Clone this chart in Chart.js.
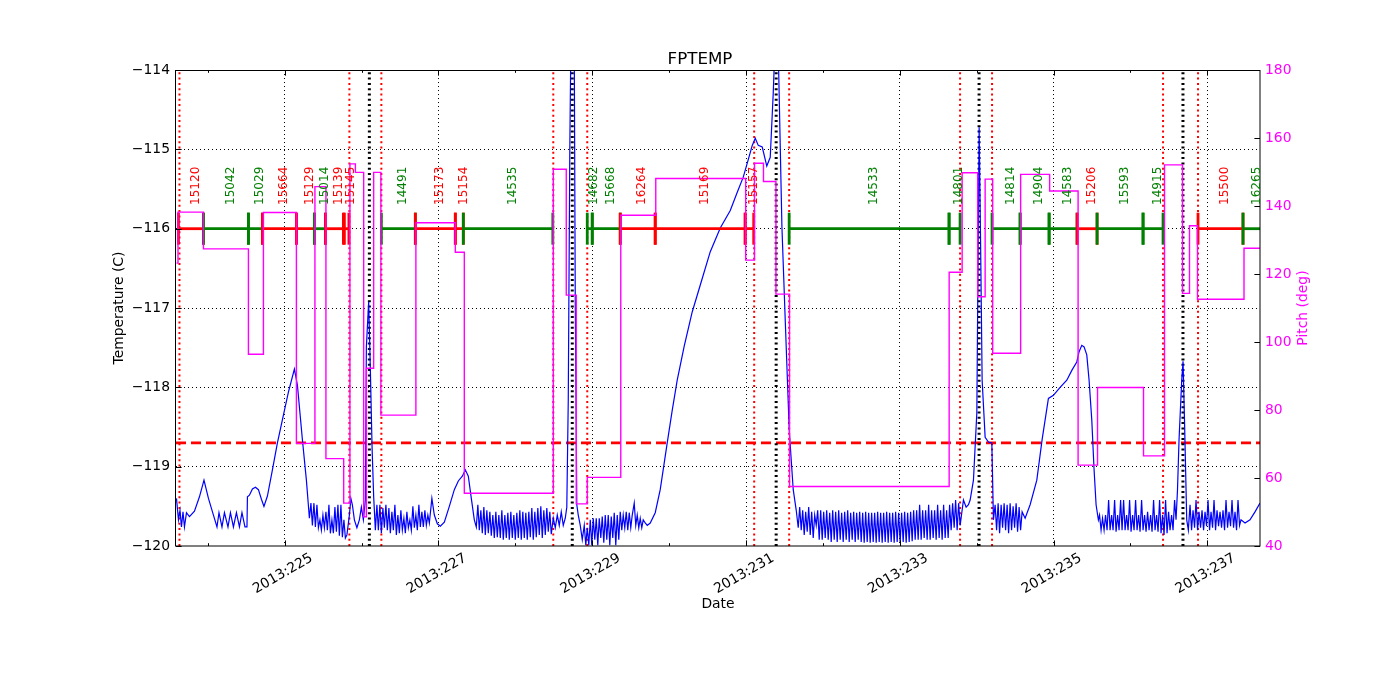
<!DOCTYPE html>
<html><head><meta charset="utf-8">
<script src="https://cdn.jsdelivr.net/npm/chart.js@4.4.1/dist/chart.umd.min.js"></script>
<style>html,body{margin:0;padding:0;background:#fff;}canvas{display:block;}</style>
</head><body>
<canvas id="c" width="1400" height="700"></canvas>
<script>
// ---------------- data ----------------
const X_MIN = 223.586, X_MAX = 237.685;
const dayTicks = [224,225,226,227,228,229,230,231,232,233,234,235,236,237];
const tempTicks = [-120,-119,-118,-117,-116,-115,-114];
const pitchTicks = [40,60,80,100,120,140,160,180];
const limitTemp = -118.7;
const obsLevel = -116;
const obsLabelLevel = -115.70;

const tempDays = [
223.592,223.618,223.638,223.657,223.677,223.696,223.722,223.761,223.826,223.891,223.950,224.008,224.073,224.119,224.145,224.184,224.216,224.262,224.294,224.333,224.372,224.411,224.444,224.483,224.509,224.515,224.541,224.580,224.619,224.658,224.697,224.730,224.775,224.840,224.905,224.983,225.048,225.126,225.165,225.230,225.282,225.321,
225.341,225.360,225.380,225.399,225.419,225.438,225.458,225.477,225.497,225.516,225.536,225.555,225.575,225.594,225.614,225.633,225.653,225.672,225.692,225.711,225.731,225.750,225.770,225.789,225.809,
225.841,225.861,225.880,225.906,225.939,225.971,225.997,226.023,226.049,226.062,226.092,226.114,226.136,226.157,226.179,
226.199,226.218,226.238,226.257,226.277,226.296,226.316,226.335,226.355,226.374,226.394,226.413,226.433,226.452,226.472,226.491,226.511,226.530,226.550,226.569,226.589,226.608,226.628,226.647,226.667,226.686,226.706,226.725,226.745,226.764,226.784,226.803,226.823,226.842,226.862,226.881,
226.914,226.946,226.985,227.024,227.076,227.141,227.206,227.258,227.310,227.349,227.388,227.427,227.466,227.492,
227.512,227.531,227.551,227.570,227.590,227.609,227.629,227.648,227.668,227.687,227.707,227.726,227.746,227.765,227.785,227.804,227.824,227.843,227.863,227.882,227.902,227.921,227.941,227.960,227.980,227.999,228.019,228.038,228.058,228.077,228.097,228.116,228.136,228.155,228.175,228.194,228.214,228.233,228.253,228.272,228.292,228.311,228.331,228.350,228.370,228.389,228.409,228.428,228.448,228.467,
228.493,228.519,228.545,228.571,228.597,228.623,228.649,228.669,228.688,228.708,228.721,228.766,228.779,228.799,228.818,228.844,228.870,228.896,
228.916,228.935,228.955,228.974,228.994,229.013,229.033,229.052,229.072,229.091,229.111,229.130,229.150,229.169,229.189,229.208,229.228,229.247,229.267,229.286,229.306,229.325,229.345,
229.364,229.384,229.403,229.423,229.442,229.462,229.481,229.501,229.520,229.546,229.566,229.585,229.605,229.624,229.644,229.663,229.689,229.715,229.754,229.819,229.884,229.975,230.040,230.105,230.196,230.300,230.405,230.535,230.665,230.795,230.886,230.964,231.029,231.081,231.120,231.159,231.211,231.270,231.315,231.354,231.374,231.419,231.467,231.510,231.562,231.614,231.653,231.679,
231.698,231.718,231.737,231.757,231.776,231.796,231.815,231.835,231.854,231.874,231.893,231.913,231.932,231.952,231.971,231.991,232.010,232.030,232.049,232.069,232.088,232.108,232.127,232.147,232.166,232.186,232.205,232.225,232.244,232.264,232.283,232.303,232.322,232.342,232.361,232.381,232.400,232.420,232.439,232.459,232.478,232.498,232.517,232.537,232.556,232.576,232.595,232.615,232.634,232.654,232.673,232.693,232.712,232.732,232.751,232.771,232.790,232.810,232.829,232.849,232.868,232.888,232.907,232.927,232.946,232.966,232.985,233.005,233.024,233.044,233.063,233.083,233.102,233.122,233.141,233.161,233.180,233.200,233.219,233.239,233.258,233.278,233.297,233.317,233.336,233.356,233.375,233.395,233.414,233.434,233.453,233.473,233.492,233.512,233.531,233.551,233.570,233.590,233.609,233.629,233.648,233.668,233.687,233.707,233.726,233.746,233.765,233.785,
233.828,233.863,233.893,233.915,233.958,234.002,234.019,234.032,234.052,234.071,234.110,234.153,234.197,234.218,
234.240,234.259,234.279,234.298,234.318,234.337,234.357,234.376,234.396,234.415,234.435,234.454,234.474,234.493,234.513,234.532,234.552,234.571,234.591,
234.630,234.695,234.782,234.851,234.933,234.998,235.085,235.172,235.241,235.302,235.332,235.367,235.397,235.432,235.462,235.497,235.527,235.553,235.583,
235.598,235.618,235.637,235.657,235.676,235.696,235.716,235.735,235.755,235.774,235.794,235.813,235.833,235.852,235.872,235.891,235.911,235.930,235.950,235.969,235.989,236.008,236.028,236.047,236.067,236.086,236.106,236.125,236.145,236.164,236.184,236.203,236.223,236.242,236.262,236.281,236.301,236.320,236.340,236.359,236.379,236.398,236.418,236.437,236.457,236.476,236.496,236.515,236.535,236.554,236.574,236.593,
236.612,236.632,236.667,236.684,236.703,236.732,236.753,
236.775,236.795,236.814,236.834,236.853,236.873,236.892,236.912,236.931,236.951,236.970,236.990,237.009,237.029,237.048,237.068,237.087,237.107,237.126,237.146,237.165,237.185,237.204,237.224,237.243,237.263,237.282,237.302,237.321,237.341,237.360,237.380,237.399,237.419,
237.438,237.490,237.555,237.620,237.685
];
const tempVals = [
-119.40,-119.67,-119.55,-119.76,-119.57,-119.76,-119.58,-119.63,-119.56,-119.38,-119.17,-119.40,-119.61,-119.76,-119.58,-119.76,-119.58,-119.76,-119.58,-119.76,-119.58,-119.76,-119.58,-119.76,-119.76,-119.38,-119.36,-119.28,-119.26,-119.29,-119.41,-119.50,-119.37,-119.04,-118.70,-118.35,-118.06,-117.77,-117.97,-118.66,-119.17,-119.65,
-119.46,-119.74,-119.46,-119.76,-119.48,-119.77,-119.67,-119.80,-119.61,-119.77,-119.57,-119.80,-119.48,-119.84,-119.67,-119.84,-119.51,-119.82,-119.48,-119.87,-119.48,-119.89,-119.67,-119.90,-119.86,
-119.61,-119.40,-119.48,-119.67,-119.77,-119.67,-119.51,-119.67,-119.42,-117.49,-116.92,-117.78,-118.75,-119.38,-119.80,
-119.48,-119.80,-119.48,-119.84,-119.52,-119.77,-119.48,-119.80,-119.52,-119.84,-119.57,-119.80,-119.48,-119.86,-119.61,-119.84,-119.55,-119.80,-119.65,-119.84,-119.57,-119.77,-119.67,-119.80,-119.50,-119.77,-119.61,-119.80,-119.48,-119.76,-119.57,-119.76,-119.55,-119.74,-119.61,-119.71,
-119.40,-119.61,-119.72,-119.75,-119.70,-119.50,-119.29,-119.18,-119.12,-119.04,-119.12,-119.40,-119.67,-119.76,
-119.48,-119.80,-119.55,-119.84,-119.51,-119.86,-119.55,-119.84,-119.57,-119.87,-119.61,-119.90,-119.57,-119.89,-119.61,-119.90,-119.55,-119.92,-119.61,-119.90,-119.58,-119.92,-119.57,-119.90,-119.61,-119.92,-119.58,-119.90,-119.55,-119.92,-119.57,-119.90,-119.58,-119.92,-119.57,-119.89,-119.52,-119.92,-119.57,-119.89,-119.52,-119.86,-119.50,-119.90,-119.55,-119.86,-119.52,-119.82,-119.57,-119.85,
-119.65,-119.77,-119.61,-119.74,-119.57,-119.74,-119.65,-119.51,-118.16,-115.01,-113.75,-113.75,-116.90,-119.48,-119.61,-119.74,-119.92,-119.74,
-119.99,-119.77,-119.99,-119.67,-119.99,-119.65,-119.92,-119.65,-119.99,-119.65,-119.90,-119.63,-119.96,-119.61,-119.92,-119.61,-119.99,-119.63,-119.90,-119.58,-119.99,-119.61,-119.92,
-119.57,-119.80,-119.61,-119.77,-119.57,-119.80,-119.58,-119.77,-119.61,-119.46,-119.74,-119.61,-119.77,-119.65,-119.77,-119.67,-119.71,-119.74,-119.71,-119.58,-119.29,-118.70,-118.29,-117.91,-117.48,-117.05,-116.71,-116.29,-115.99,-115.77,-115.54,-115.35,-115.13,-114.95,-114.86,-114.95,-114.97,-115.21,-115.10,-114.29,-113.75,-113.75,-115.98,-117.15,-118.54,-119.29,-119.55,-119.77,
-119.51,-119.80,-119.55,-119.86,-119.57,-119.82,-119.51,-119.86,-119.57,-119.90,-119.61,-119.74,-119.55,-119.92,-119.55,-119.92,-119.57,-119.90,-119.55,-119.92,-119.58,-119.95,-119.55,-119.92,-119.57,-119.95,-119.55,-119.92,-119.58,-119.95,-119.57,-119.92,-119.55,-119.95,-119.58,-119.92,-119.57,-119.95,-119.58,-119.92,-119.57,-119.95,-119.58,-119.96,-119.57,-119.95,-119.58,-119.96,-119.58,-119.95,-119.58,-119.96,-119.57,-119.95,-119.58,-119.96,-119.58,-119.95,-119.57,-119.96,-119.58,-119.95,-119.58,-119.96,-119.57,-119.95,-119.58,-119.96,-119.58,-119.95,-119.57,-119.96,-119.58,-119.95,-119.57,-119.94,-119.55,-119.92,-119.55,-119.92,-119.48,-119.92,-119.55,-119.90,-119.55,-119.92,-119.48,-119.92,-119.55,-119.90,-119.55,-119.92,-119.48,-119.90,-119.55,-119.92,-119.48,-119.90,-119.55,-119.90,-119.48,-119.80,-119.46,-119.77,-119.42,-119.80,-119.46,-119.74,
-119.42,-119.51,-119.48,-119.42,-119.17,-118.32,-116.27,-114.72,-116.27,-117.91,-118.63,-118.69,-118.70,-119.67,
-119.48,-119.80,-119.46,-119.84,-119.48,-119.77,-119.46,-119.80,-119.48,-119.84,-119.46,-119.80,-119.50,-119.77,-119.46,-119.82,-119.51,-119.80,-119.57,
-119.65,-119.48,-119.17,-118.66,-118.14,-118.10,-118.00,-117.91,-117.78,-117.68,-117.55,-117.47,-117.49,-117.59,-117.91,-118.41,-119.04,-119.48,-119.67,
-119.61,-119.80,-119.65,-119.80,-119.61,-119.80,-119.42,-119.80,-119.61,-119.80,-119.42,-119.82,-119.61,-119.80,-119.42,-119.80,-119.42,-119.80,-119.61,-119.80,-119.42,-119.82,-119.61,-119.80,-119.42,-119.80,-119.61,-119.82,-119.42,-119.80,-119.61,-119.82,-119.57,-119.80,-119.61,-119.82,-119.42,-119.80,-119.61,-119.82,-119.42,-119.84,-119.61,-119.86,-119.42,-119.84,-119.57,-119.80,-119.61,-119.80,-119.42,-119.67,
-119.29,-118.66,-117.91,-117.67,-118.41,-119.67,-119.80,
-119.48,-119.80,-119.55,-119.77,-119.42,-119.80,-119.57,-119.77,-119.55,-119.80,-119.57,-119.75,-119.42,-119.80,-119.57,-119.77,-119.42,-119.80,-119.55,-119.75,-119.57,-119.77,-119.55,-119.80,-119.42,-119.77,-119.57,-119.75,-119.42,-119.77,-119.57,-119.80,-119.42,-119.74,
-119.67,-119.71,-119.67,-119.57,-119.46
];

const pitchDays = [223.592,223.612,223.943,224.528,224.723,225.152,225.393,225.536,225.767,225.848,225.919,226.027,226.062,226.157,226.251,226.706,227.219,227.336,228.493,228.662,228.792,228.935,229.371,229.826,230.996,231.110,231.227,231.389,231.566,233.642,233.811,234.013,234.110,234.208,234.572,234.949,235.319,235.572,236.170,236.443,236.677,236.768,236.872,237.477,237.685];
const pitchVals = [123.2,138.2,127.4,96.4,138.1,70.2,145.7,65.7,52.6,152.4,149.9,48.6,92.3,149.9,78.5,135.1,126.4,55.5,150.8,113.8,52.4,60.2,137.3,148.1,124.1,152.6,147.2,114.1,57.5,120.5,149.8,113.3,147.9,96.7,149.3,144.4,63.8,86.6,66.5,152.1,114.3,134.2,112.6,127.6,127.6];

const obsIds   = ['15120','15042','15029','15664','15129','15014','15139','15145','14491','15173','15154','14535','14682','15668','16264','15169','15157','14533','14801','14814','14904','14583','15206','15593','14915','15500','16265'];
const obsStart = [223.618,223.943,224.528,224.710,225.152,225.386,225.529,225.776,226.257,226.699,227.219,227.323,228.935,229.000,229.364,229.819,230.989,231.561,233.641,234.200,234.565,234.942,235.306,235.566,236.164,236.879,237.464];
const obsEnd   = [223.943,224.528,224.710,225.152,225.386,225.529,225.763,225.835,226.699,227.219,227.323,228.487,229.000,229.364,229.819,230.989,231.100,233.641,233.784,234.565,234.942,235.306,235.566,236.164,236.424,237.464,237.720];
const obsKind  = ['r','g','g','r','r','g','r','r','g','r','r','g','g','g','r','r','r','g','g','g','g','g','r','g','g','r','g'];

const radZone = [223.631,225.841,226.257,228.493,228.935,231.106,231.561,233.784,234.200,236.424,236.879];
const perigee = [226.101,228.740,231.392,234.031,236.683];

// ---------------- build ----------------
const RED = '#ff0000', GREEN = '#008000', BLUE = '#0000ff', MAGENTA = '#ff00ff';
const FONT = 'DejaVu Sans';
Chart.defaults.font.family = FONT;

const nT = Math.min(tempDays.length, tempVals.length);
const tempData = [];
for (let i = 0; i < nT; i++) tempData.push({x: tempDays[i], y: tempVals[i]});
const pitchData = pitchDays.map((d, i) => ({x: d, y: pitchVals[i]}));

const obsPts = [], obsPtColors = [];
for (let i = 0; i < obsIds.length; i++) {
  const col = obsKind[i] === 'r' ? RED : GREEN;
  obsPts.push({x: obsStart[i], y: obsLevel}); obsPtColors.push(col);
  obsPts.push({x: obsEnd[i], y: obsLevel}); obsPtColors.push(col);
  if (i + 1 < obsIds.length && obsStart[i + 1] > obsEnd[i] + 1e-6) {
    obsPts.push({x: (obsEnd[i] + obsStart[i + 1]) / 2, y: null}); obsPtColors.push(col);
  }
}
function vlines(arr) {
  const out = [];
  arr.forEach(d => { out.push({x: d, y: -120}, {x: d, y: -114}, {x: d, y: null}); });
  return out;
}

const decor = {
  id: 'decor',
  afterDatasetsDraw(chart) {
    const {ctx, chartArea: a, scales} = chart;
    const x = scales.x, y = scales.y, y2 = scales.y2;
    ctx.save();
    ctx.strokeStyle = '#000'; ctx.lineWidth = 1;
    ctx.beginPath();
    dayTicks.forEach(v => {
      const px = Math.round(x.getPixelForValue(v)) + 0.5;
      const len = (v % 2 === 1) ? 5.6 : 2.8;
      ctx.moveTo(px, a.bottom); ctx.lineTo(px, a.bottom - len);
      ctx.moveTo(px, a.top); ctx.lineTo(px, a.top + len);
    });
    tempTicks.forEach(v => {
      const py = Math.round(y.getPixelForValue(v)) + 0.5;
      ctx.moveTo(a.left, py); ctx.lineTo(a.left + 5.6, py);
    });
    pitchTicks.forEach(v => {
      const py = Math.round(y2.getPixelForValue(v)) + 0.5;
      ctx.moveTo(a.right, py); ctx.lineTo(a.right - 5.6, py);
    });
    ctx.stroke();
    ctx.strokeRect(Math.round(a.left) - 0.5, Math.round(a.top) + 0.5, Math.round(a.right - a.left) + 0.5, Math.round(a.bottom - a.top) - 0.5);
    // obsid labels
    ctx.font = '12px "' + FONT + '"';
    ctx.textAlign = 'left'; ctx.textBaseline = 'middle';
    for (let i = 0; i < obsIds.length; i++) {
      const mid = (obsStart[i] + obsEnd[i]) / 2;
      const px = x.getPixelForValue(mid) + 4.5;
      const py = y.getPixelForValue(obsLabelLevel);
      ctx.save();
      ctx.translate(px, py); ctx.rotate(-Math.PI / 2);
      ctx.fillStyle = obsKind[i] === 'r' ? RED : GREEN;
      ctx.fillText(obsIds[i], 0, 0);
      ctx.restore();
    }
    // right axis title
    ctx.save();
    ctx.font = '13.9px "' + FONT + '"';
    ctx.fillStyle = MAGENTA; ctx.textAlign = 'center'; ctx.textBaseline = 'middle';
    ctx.translate(1303, (a.top + a.bottom) / 2); ctx.rotate(-Math.PI / 2);
    ctx.fillText('Pitch (deg)', 0, 0);
    ctx.restore();
    ctx.restore();
  }
};

new Chart(document.getElementById('c'), {
  type: 'line',
  data: {
    datasets: [
      { label: 'Pitch', data: pitchData, yAxisID: 'y2', borderColor: MAGENTA, borderWidth: 1.4, pointRadius: 0, stepped: 'before', order: 1 },
      { label: 'Obs', data: obsPts, yAxisID: 'y', borderColor: RED, borderWidth: 2.8, spanGaps: false,
        segment: { borderColor: c => obsPtColors[c.p0DataIndex] },
        pointStyle: 'line', pointRotation: 90,
        pointRadius: c => (c.raw && c.raw.y !== null) ? 16 : 0,
        pointBorderColor: obsPtColors, pointBackgroundColor: obsPtColors, pointBorderWidth: 2.8, order: 2 },
      { label: 'FPTEMP', data: tempData, yAxisID: 'y', borderColor: BLUE, borderWidth: 1.2, pointRadius: 0, order: 3 },
      { label: 'perigee', data: vlines(perigee), yAxisID: 'y', borderColor: '#000', borderWidth: 3, borderDash: [2, 3.3], pointRadius: 0, spanGaps: false, order: 4 },
      { label: 'radzone', data: vlines(radZone), yAxisID: 'y', borderColor: RED, borderWidth: 2, borderDash: [2, 3.3], pointRadius: 0, spanGaps: false, order: 5 },
      { label: 'limit', data: [{x: X_MIN, y: limitTemp}, {x: X_MAX, y: limitTemp}], yAxisID: 'y', borderColor: RED, borderWidth: 2.8, borderDash: [10, 5], pointRadius: 0, order: 6 }
    ]
  },
  options: {
    responsive: false, animation: false, devicePixelRatio: 1, events: [],
    layout: { padding: 0 },
    plugins: {
      legend: { display: false }, tooltip: { enabled: false },
      title: { display: true, text: 'FPTEMP', color: '#000', font: { family: FONT, size: 16.7, weight: 'normal', lineHeight: 1.2 }, padding: { top: 50, bottom: 0 } }
    },
    scales: {
      x: {
        type: 'linear', min: X_MIN, max: X_MAX,
        afterBuildTicks: s => { s.ticks = dayTicks.map(v => ({value: v})); },
        afterFit: s => { s.height = 154; },
        grid: { drawTicks: false, lineWidth: 1, color: c => (c.tick && c.tick.value % 2 === 1) ? '#000' : 'rgba(0,0,0,0)' },
        border: { display: false, dash: [1, 3] },
        ticks: { autoSkip: false, minRotation: 30, maxRotation: 30, padding: 4, labelOffset: 27, color: '#000', font: { family: FONT, size: 13.9 },
          callback: v => (v % 2 === 1) ? '2013:' + v : '' },
        title: { display: true, text: 'Date', color: '#000', font: { family: FONT, size: 13.9 }, padding: { top: 0, bottom: 87 } }
      },
      y: {
        type: 'linear', position: 'left', min: -120, max: -114,
        afterBuildTicks: s => { s.ticks = tempTicks.map(v => ({value: v})); },
        afterFit: s => { s.width = 176; },
        grid: { drawTicks: false, lineWidth: 1, color: c => (c.tick && (c.tick.value === -120 || c.tick.value === -114)) ? 'rgba(0,0,0,0)' : '#000' },
        border: { display: false, dash: [1, 3] },
        ticks: { padding: 6, color: '#000', font: { family: FONT, size: 13.9 }, callback: v => '\u2212' + Math.abs(v) },
        title: { display: true, text: 'Temperature (C)', color: '#000', font: { family: FONT, size: 13.9 }, padding: { top: 110.7, bottom: 0 } }
      },
      y2: {
        type: 'linear', position: 'right', min: 40, max: 180,
        afterBuildTicks: s => { s.ticks = pitchTicks.map(v => ({value: v})); },
        afterFit: s => { s.width = 140; },
        grid: { display: false, drawTicks: false },
        border: { display: false },
        ticks: { padding: 5, color: MAGENTA, font: { family: FONT, size: 13.9 } }
      }
    }
  },
  plugins: [decor]
});
</script>
</body></html>
